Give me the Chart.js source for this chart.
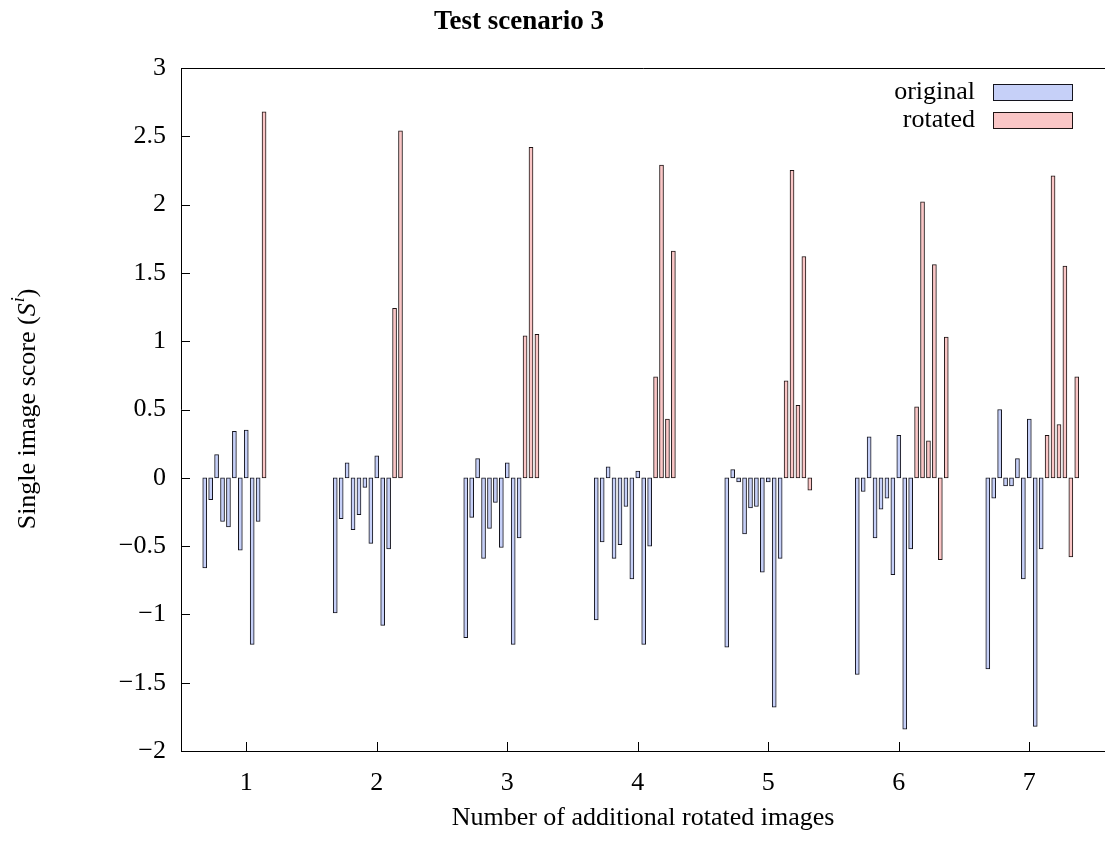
<!DOCTYPE html>
<html>
<head>
<meta charset="utf-8">
<title>Test scenario 3</title>
<script src="https://cdn.jsdelivr.net/npm/chart.js@4.4.1/dist/chart.umd.min.js"></script>
<style>
  html, body { margin: 0; padding: 0; background: #fff; }
  #wrap { width: 1105px; height: 841px; }
</style>
</head>
<body>
<div id="wrap"><canvas id="scoreChart" width="1105" height="841"></canvas></div>
<script>
// Number of additional rotated images
const groups = [1, 2, 3, 4, 5, 6, 7];

// Scores of the ten original images, one row per group
const originalScores = [
  [-0.66, -0.16, 0.17, -0.32, -0.36, 0.34, -0.53, 0.35, -1.22, -0.32],
  [-0.99, -0.30, 0.11, -0.38, -0.27, -0.07, -0.48, 0.16, -1.08, -0.52],
  [-1.17, -0.29, 0.14, -0.59, -0.37, -0.18, -0.51, 0.11, -1.22, -0.44],
  [-1.04, -0.47, 0.08, -0.59, -0.49, -0.21, -0.74, 0.05, -1.22, -0.50],
  [-1.24, 0.06, -0.03, -0.41, -0.22, -0.21, -0.69, -0.03, -1.68, -0.59],
  [-1.44, -0.10, 0.30, -0.44, -0.23, -0.15, -0.71, 0.31, -1.84, -0.52],
  [-1.40, -0.15, 0.50, -0.06, -0.06, 0.14, -0.74, 0.43, -1.82, -0.52]
];

// Scores of the rotated images added in each group
const rotatedScores = [
  [2.68],
  [1.24, 2.54],
  [1.04, 2.42, 1.05],
  [0.74, 2.29, 0.43, 1.66],
  [0.71, 2.25, 0.53, 1.62, -0.09],
  [0.52, 2.02, 0.27, 1.56, -0.60, 1.03],
  [0.31, 2.21, 0.39, 1.55, -0.58, 0.74]
];

const yTicks = [3, 2.5, 2, 1.5, 1, 0.5, 0, -0.5, -1, -1.5, -2];

// slot layout inside a group: each bar takes 1/22 of a unit, slot 7 sits on the tick
const SLOT = 1 / 22;
const SLOT_ON_TICK = 7;

const FONT = "'Liberation Serif', 'Times New Roman', serif";
const FONT_SIZE = 26;

function toPoints(rows, firstSlot) {
  const pts = [];
  rows.forEach((row, g) => {
    row.forEach((v, j) => {
      pts.push({ x: groups[g] + (firstSlot + j - SLOT_ON_TICK) * SLOT, y: v });
    });
  });
  return pts;
}

function fmt(v) {
  return v < 0 ? '\u2212' + Math.abs(v) : String(v);
}

// axes frame with inward ticks, title, y label and legend
const decorations = {
  id: 'decorations',
  afterDraw(chart) {
    const ctx = chart.ctx;
    const a = chart.chartArea;
    const xs = chart.scales.x;
    const ys = chart.scales.y;
    ctx.save();
    ctx.strokeStyle = '#000';
    ctx.lineWidth = 1;
    ctx.beginPath();
    ctx.moveTo(a.left + 0.5, a.top + 0.5);
    ctx.lineTo(a.right, a.top + 0.5);
    ctx.moveTo(a.left + 0.5, a.top);
    ctx.lineTo(a.left + 0.5, a.bottom + 0.5);
    ctx.moveTo(a.left, a.bottom + 0.5);
    ctx.lineTo(a.right, a.bottom + 0.5);
    yTicks.forEach(v => {
      const py = Math.round(ys.getPixelForValue(v)) + 0.5;
      ctx.moveTo(a.left, py);
      ctx.lineTo(a.left + 9, py);
    });
    groups.forEach(v => {
      const px = Math.round(xs.getPixelForValue(v)) + 0.5;
      ctx.moveTo(px, a.bottom);
      ctx.lineTo(px, a.bottom - 9);
    });
    ctx.stroke();

    // title
    ctx.fillStyle = '#000';
    ctx.textBaseline = 'middle';
    ctx.textAlign = 'center';
    ctx.font = 'bold ' + (FONT_SIZE + 1) + 'px ' + FONT;
    ctx.fillText('Test scenario 3', 519, 22);

    // y axis label: Single image score (S^i)
    const parts = [
      { t: 'Single image score (', f: FONT_SIZE + 'px ' + FONT, dy: 0 },
      { t: 'S', f: 'italic ' + FONT_SIZE + 'px ' + FONT, dy: 0 },
      { t: 'i', f: 'italic ' + Math.round(FONT_SIZE * 0.7) + 'px ' + FONT, dy: -9 },
      { t: ')', f: FONT_SIZE + 'px ' + FONT, dy: 0 }
    ];
    let total = 0;
    parts.forEach(p => { ctx.font = p.f; p.w = ctx.measureText(p.t).width; total += p.w; });
    ctx.translate(28, (a.top + a.bottom) / 2);
    ctx.rotate(-Math.PI / 2);
    ctx.textAlign = 'left';
    let cx = -total / 2;
    parts.forEach(p => {
      ctx.font = p.f;
      ctx.fillText(p.t, cx, p.dy);
      cx += p.w + (p.t === 'S' ? 1 : 0);
    });
    ctx.setTransform(1, 0, 0, 1, 0, 0);

    // legend: text right-aligned, sample box to its right
    ctx.font = FONT_SIZE + 'px ' + FONT;
    ctx.textAlign = 'right';
    chart.data.datasets.forEach((ds, i) => {
      const cy = 92 + i * 28;
      ctx.fillStyle = '#000';
      ctx.fillText(ds.label, 975, cy);
      ctx.fillStyle = ds.backgroundColor;
      ctx.fillRect(993, cy - 8, 79, 16);
      ctx.strokeStyle = ds.borderColor;
      ctx.strokeRect(993.5, cy - 7.5, 79, 16);
    });
    ctx.restore();
  }
};

document.addEventListener('DOMContentLoaded', () => {
  Chart.defaults.font.family = FONT;
  Chart.defaults.font.size = FONT_SIZE;
  Chart.defaults.color = '#000';

  const barStyle = {
    borderWidth: 1,
    borderSkipped: false,
    barThickness: 4,
    grouped: false
  };

  new Chart(document.getElementById('scoreChart'), {
    type: 'bar',
    data: {
      datasets: [
        Object.assign({
          label: 'original',
          data: toPoints(originalScores, 0),
          backgroundColor: '#c6d0f8',
          borderColor: '#14141e'
        }, barStyle),
        Object.assign({
          label: 'rotated',
          data: toPoints(rotatedScores, 10),
          backgroundColor: '#fac6c6',
          borderColor: '#1e1414'
        }, barStyle)
      ]
    },
    options: {
      responsive: false,
      animation: false,
      layout: { padding: { top: 68, right: 0, bottom: 0, left: 0 } },
      plugins: {
        legend: { display: false },
        tooltip: { enabled: false }
      },
      scales: {
        x: {
          type: 'linear',
          min: 0.5,
          max: 7.58,
          offset: false,
          grid: { display: false, drawTicks: false },
          border: { display: false },
          afterBuildTicks: s => { s.ticks = groups.map(v => ({ value: v })); },
          afterFit: s => { s.height = 90; },
          ticks: { padding: 17, maxRotation: 0, callback: v => String(v) },
          title: {
            display: true,
            text: 'Number of additional rotated images',
            padding: { top: 4, bottom: 7 }
          }
        },
        y: {
          min: -2,
          max: 3,
          grid: { display: false, drawTicks: false },
          border: { display: false },
          afterBuildTicks: s => { s.ticks = yTicks.map(v => ({ value: v })); },
          afterFit: s => { s.width = 181; },
          ticks: { padding: 15, callback: v => fmt(v) }
        }
      }
    },
    plugins: [decorations]
  });
});
</script>
</body>
</html>
